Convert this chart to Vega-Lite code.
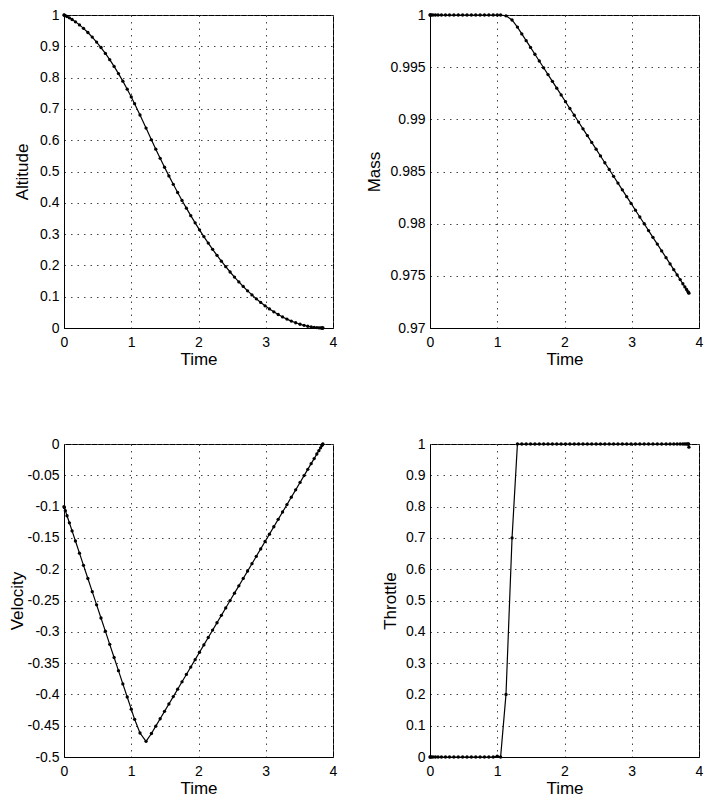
{
  "$schema": "https://vega.github.io/schema/vega-lite/v6.json",
  "background": "white",
  "padding": {"left": 7, "top": 7, "right": 5, "bottom": 5},
  "datasets": {
    "traj": [
      {"t": 0, "h": 1, "v": -0.1, "m": 1, "u": 0},
      {"t": 0.005, "h": 0.9995, "v": -0.1016, "m": 1, "u": 0},
      {"t": 0.02, "h": 0.9979, "v": -0.1065, "m": 1, "u": 0},
      {"t": 0.045, "h": 0.9952, "v": -0.1146, "m": 1, "u": 0},
      {"t": 0.08, "h": 0.991, "v": -0.1259, "m": 1, "u": 0},
      {"t": 0.12, "h": 0.9857, "v": -0.1388, "m": 1, "u": 0},
      {"t": 0.17, "h": 0.9783, "v": -0.155, "m": 1, "u": 0},
      {"t": 0.23, "h": 0.9684, "v": -0.1744, "m": 1, "u": 0},
      {"t": 0.29, "h": 0.9574, "v": -0.1938, "m": 1, "u": 0},
      {"t": 0.355, "h": 0.9441, "v": -0.2149, "m": 1, "u": 0},
      {"t": 0.42, "h": 0.9295, "v": -0.2359, "m": 1, "u": 0},
      {"t": 0.485, "h": 0.9134, "v": -0.2569, "m": 1, "u": 0},
      {"t": 0.55, "h": 0.8961, "v": -0.278, "m": 1, "u": 0},
      {"t": 0.615, "h": 0.8773, "v": -0.299, "m": 1, "u": 0},
      {"t": 0.68, "h": 0.8572, "v": -0.32, "m": 1, "u": 0},
      {"t": 0.745, "h": 0.8357, "v": -0.3411, "m": 1, "u": 0},
      {"t": 0.81, "h": 0.8128, "v": -0.3621, "m": 1, "u": 0},
      {"t": 0.875, "h": 0.7886, "v": -0.3832, "m": 1, "u": 0},
      {"t": 0.94, "h": 0.763, "v": -0.4042, "m": 1, "u": 0},
      {"t": 1.0, "h": 0.7382, "v": -0.4236, "m": 1, "u": 0.003},
      {"t": 1.05, "h": 0.7166, "v": -0.4398, "m": 1, "u": 0},
      {"t": 1.13, "h": 0.6805, "v": -0.4617, "m": 0.99992, "u": 0.2},
      {"t": 1.22, "h": 0.6386, "v": -0.475, "m": 0.99952, "u": 0.7},
      {"t": 1.3, "h": 0.6013, "v": -0.4625, "m": 0.99884, "u": 1},
      {"t": 1.365, "h": 0.5713, "v": -0.4507, "m": 0.99819, "u": 1},
      {"t": 1.43, "h": 0.5421, "v": -0.4389, "m": 0.99754, "u": 1},
      {"t": 1.495, "h": 0.5136, "v": -0.4271, "m": 0.99689, "u": 1},
      {"t": 1.56, "h": 0.486, "v": -0.4153, "m": 0.99624, "u": 1},
      {"t": 1.625, "h": 0.459, "v": -0.4035, "m": 0.99559, "u": 1},
      {"t": 1.69, "h": 0.4329, "v": -0.3917, "m": 0.99494, "u": 1},
      {"t": 1.755, "h": 0.4075, "v": -0.3799, "m": 0.99429, "u": 1},
      {"t": 1.82, "h": 0.3829, "v": -0.3681, "m": 0.99364, "u": 1},
      {"t": 1.885, "h": 0.359, "v": -0.3563, "m": 0.99299, "u": 1},
      {"t": 1.95, "h": 0.336, "v": -0.3445, "m": 0.99234, "u": 1},
      {"t": 2.015, "h": 0.3136, "v": -0.3327, "m": 0.99169, "u": 1},
      {"t": 2.08, "h": 0.2921, "v": -0.3209, "m": 0.99104, "u": 1},
      {"t": 2.145, "h": 0.2713, "v": -0.3091, "m": 0.99039, "u": 1},
      {"t": 2.21, "h": 0.2513, "v": -0.2973, "m": 0.98974, "u": 1},
      {"t": 2.275, "h": 0.2321, "v": -0.2855, "m": 0.98909, "u": 1},
      {"t": 2.34, "h": 0.2136, "v": -0.2737, "m": 0.98844, "u": 1},
      {"t": 2.405, "h": 0.1959, "v": -0.2619, "m": 0.98779, "u": 1},
      {"t": 2.47, "h": 0.1789, "v": -0.2501, "m": 0.98714, "u": 1},
      {"t": 2.535, "h": 0.1627, "v": -0.2383, "m": 0.98649, "u": 1},
      {"t": 2.6, "h": 0.1473, "v": -0.2266, "m": 0.98584, "u": 1},
      {"t": 2.665, "h": 0.1327, "v": -0.2148, "m": 0.98519, "u": 1},
      {"t": 2.73, "h": 0.1188, "v": -0.203, "m": 0.98454, "u": 1},
      {"t": 2.795, "h": 0.1057, "v": -0.1912, "m": 0.98389, "u": 1},
      {"t": 2.86, "h": 0.0933, "v": -0.1794, "m": 0.98324, "u": 1},
      {"t": 2.925, "h": 0.0817, "v": -0.1676, "m": 0.98259, "u": 1},
      {"t": 2.99, "h": 0.0709, "v": -0.1558, "m": 0.98194, "u": 1},
      {"t": 3.055, "h": 0.0609, "v": -0.144, "m": 0.98129, "u": 1},
      {"t": 3.12, "h": 0.0516, "v": -0.1322, "m": 0.98064, "u": 1},
      {"t": 3.185, "h": 0.0431, "v": -0.1204, "m": 0.97999, "u": 1},
      {"t": 3.25, "h": 0.0353, "v": -0.1086, "m": 0.97934, "u": 1},
      {"t": 3.315, "h": 0.0284, "v": -0.0968, "m": 0.97869, "u": 1},
      {"t": 3.38, "h": 0.0221, "v": -0.085, "m": 0.97804, "u": 1},
      {"t": 3.445, "h": 0.0167, "v": -0.0732, "m": 0.97739, "u": 1},
      {"t": 3.51, "h": 0.012, "v": -0.0614, "m": 0.97674, "u": 1},
      {"t": 3.57, "h": 0.0084, "v": -0.0505, "m": 0.97614, "u": 1},
      {"t": 3.625, "h": 0.0056, "v": -0.0405, "m": 0.97559, "u": 1},
      {"t": 3.675, "h": 0.0036, "v": -0.0314, "m": 0.97509, "u": 1},
      {"t": 3.72, "h": 0.0022, "v": -0.0233, "m": 0.97464, "u": 1},
      {"t": 3.76, "h": 0.0012, "v": -0.016, "m": 0.97424, "u": 1},
      {"t": 3.79, "h": 0.0006, "v": -0.0106, "m": 0.97394, "u": 1},
      {"t": 3.815, "h": 0.0003, "v": -0.0061, "m": 0.97369, "u": 1},
      {"t": 3.835, "h": 0.0001, "v": -0.0024, "m": 0.97349, "u": 1},
      {"t": 3.845, "h": 0, "v": -0.0006, "m": 0.97339, "u": 1},
      {"t": 3.85, "h": 0, "v": 0, "m": 0.97334, "u": 0.99}
    ]
  },
  "config": {
    "font": "Liberation Sans",
    "view": {"stroke": "black", "strokeWidth": 1},
    "axis": {
      "labelFont": "Liberation Sans",
      "labelFontSize": 14,
      "labelColor": "black",
      "titleFont": "Liberation Sans",
      "titleFontSize": 17,
      "titleFontWeight": "normal",
      "titleColor": "black",
      "domainColor": "black",
      "domainWidth": 1,
      "grid": true,
      "gridColor": "#444",
      "gridDash": [1.5, 5],
      "gridWidth": 1,
      "ticks": false,
      "labelFlush": false,
      "labelOverlap": false,
      "labelPadding": 5
    },
    "axisX": {"labelPadding": 7, "titlePadding": 2}
  },
  "columns": 2,
  "spacing": {"row": 116, "column": 97},
  "bounds": "flush",
  "concat": [
    {
      "width": 269, "height": 313,
      "data": {"name": "traj"},
      "encoding": {
        "x": {"field": "t", "type": "quantitative", "scale": {"domain": [0, 4]}, "axis": {"title": "Time", "values": [0, 1, 2, 3, 4], "format": "~g"}},
        "y": {"field": "h", "type": "quantitative", "scale": {"domain": [0, 1]}, "axis": {"title": "Altitude", "values": [0, 0.1, 0.2, 0.3, 0.4, 0.5, 0.6, 0.7, 0.8, 0.9, 1], "format": "~g", "titlePadding": 8}}
      },
      "layer": [
        {"mark": {"type": "line", "color": "black", "strokeWidth": 1.2}},
        {"mark": {"type": "point", "filled": true, "color": "black", "size": 11, "opacity": 1}}
      ]
    },
    {
      "width": 269, "height": 313,
      "data": {"name": "traj"},
      "encoding": {
        "x": {"field": "t", "type": "quantitative", "scale": {"domain": [0, 4]}, "axis": {"title": "Time", "values": [0, 1, 2, 3, 4], "format": "~g"}},
        "y": {"field": "m", "type": "quantitative", "scale": {"domain": [0.97, 1]}, "axis": {"title": "Mass", "values": [0.97, 0.975, 0.98, 0.985, 0.99, 0.995, 1], "format": "~g", "titlePadding": 6}}
      },
      "layer": [
        {"mark": {"type": "line", "color": "black", "strokeWidth": 1.2}},
        {"mark": {"type": "point", "filled": true, "color": "black", "size": 11, "opacity": 1}}
      ]
    },
    {
      "width": 269, "height": 313,
      "data": {"name": "traj"},
      "encoding": {
        "x": {"field": "t", "type": "quantitative", "scale": {"domain": [0, 4]}, "axis": {"title": "Time", "values": [0, 1, 2, 3, 4], "format": "~g"}},
        "y": {"field": "v", "type": "quantitative", "scale": {"domain": [-0.5, 0]}, "axis": {"title": "Velocity", "values": [-0.5, -0.45, -0.4, -0.35, -0.3, -0.25, -0.2, -0.15, -0.1, -0.05, 0], "labelExpr": "datum.value < 0 ? '-' + format(-datum.value, '~g') : format(datum.value, '~g')", "titlePadding": 1}}
      },
      "layer": [
        {"mark": {"type": "line", "color": "black", "strokeWidth": 1.2}},
        {"mark": {"type": "point", "filled": true, "color": "black", "size": 11, "opacity": 1}}
      ]
    },
    {
      "width": 269, "height": 313,
      "data": {"name": "traj"},
      "encoding": {
        "x": {"field": "t", "type": "quantitative", "scale": {"domain": [0, 4]}, "axis": {"title": "Time", "values": [0, 1, 2, 3, 4], "format": "~g"}},
        "y": {"field": "u", "type": "quantitative", "scale": {"domain": [0, 1]}, "axis": {"title": "Throttle", "values": [0, 0.1, 0.2, 0.3, 0.4, 0.5, 0.6, 0.7, 0.8, 0.9, 1], "format": "~g", "titlePadding": 6}}
      },
      "layer": [
        {"mark": {"type": "line", "color": "black", "strokeWidth": 1.2}},
        {"mark": {"type": "point", "filled": true, "color": "black", "size": 11, "opacity": 1}}
      ]
    }
  ]
}
